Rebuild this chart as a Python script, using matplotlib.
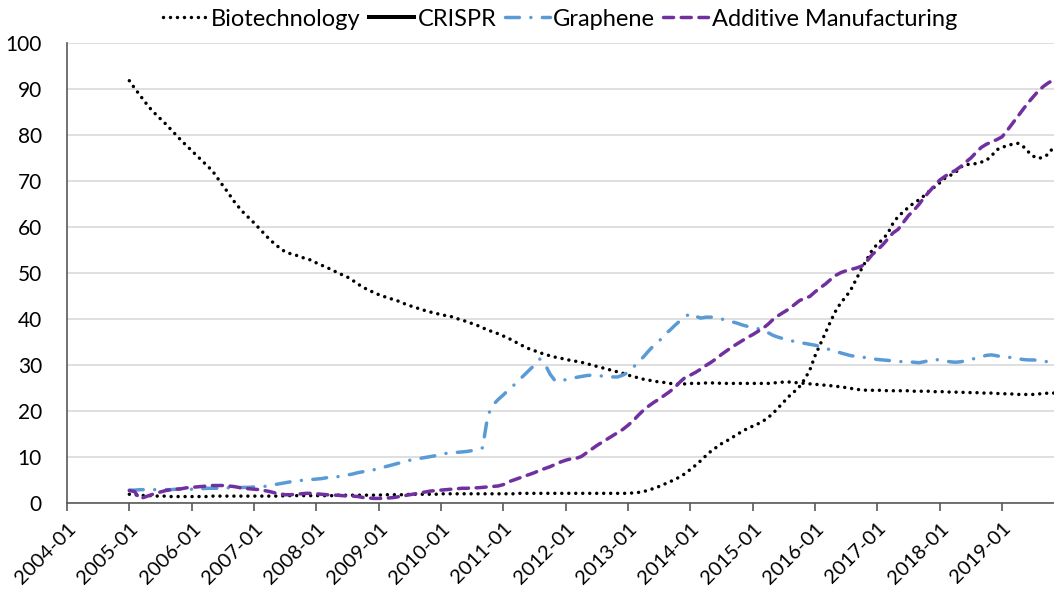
import numpy as np
import matplotlib
matplotlib.use("Agg")
import matplotlib.pyplot as plt
from matplotlib.lines import Line2D

plt.rcParams['font.family'] = ['Lato', 'DejaVu Sans']

# Monthly search-interest index, 2005-01 .. 2019-11 (no data for 2004)
first_month = "2005-01"
axis_start = "2004-01"
tick_labels = ["2004-01", "2005-01", "2006-01", "2007-01", "2008-01", "2009-01",
               "2010-01", "2011-01", "2012-01", "2013-01", "2014-01", "2015-01",
               "2016-01", "2017-01", "2018-01", "2019-01"]

biotechnology = [
    91.8, 90.2, 88.7, 87.2, 85.8, 84.6, 83.5, 82.4, 81.2, 80.0, 78.8, 77.7,   # 2005
    76.6, 75.5, 74.4, 73.3, 72.2, 70.6, 69.0, 67.5, 65.8, 64.4, 63.1, 62.0,   # 2006
    60.9, 59.7, 58.5, 57.3, 56.3, 55.4, 54.6, 54.2, 53.9, 53.5, 53.1, 52.8,   # 2007
    52.2, 51.7, 51.2, 50.7, 50.1, 49.6, 49.1, 48.4, 47.6, 46.9, 46.3, 45.8,   # 2008
    45.3, 44.9, 44.5, 44.2, 43.8, 43.3, 42.9, 42.5, 42.2, 41.8, 41.5, 41.2,   # 2009
    41.0, 40.7, 40.5, 40.1, 39.8, 39.4, 39.0, 38.6, 38.1, 37.6, 37.2, 36.8,   # 2010
    36.3, 35.8, 35.2, 34.6, 34.0, 33.5, 33.1, 32.7, 32.3, 32.0, 31.7, 31.5,   # 2011
    31.2, 31.0, 30.8, 30.6, 30.3, 30.0, 29.7, 29.4, 29.1, 28.8, 28.5, 28.2,   # 2012
    27.8, 27.5, 27.2, 26.9, 26.7, 26.5, 26.3, 26.2, 26.0, 25.9, 25.8, 25.9,   # 2013
    26.0, 26.0, 26.0, 26.1, 26.1, 26.1, 26.0, 26.0, 26.0, 26.0, 26.0, 26.0,   # 2014
    26.0, 26.0, 26.0, 26.0, 26.1, 26.2, 26.3, 26.3, 26.2, 26.1, 26.0, 25.9,   # 2015
    25.8, 25.7, 25.6, 25.5, 25.4, 25.2, 25.1, 24.9, 24.7, 24.6, 24.5, 24.5,   # 2016
    24.5, 24.5, 24.4, 24.4, 24.4, 24.4, 24.4, 24.3, 24.3, 24.3, 24.3, 24.2,   # 2017
    24.2, 24.2, 24.1, 24.1, 24.1, 24.0, 24.0, 24.0, 23.9, 23.9, 23.9, 23.8,   # 2018
    23.8, 23.7, 23.7, 23.6, 23.6, 23.6, 23.6, 23.7, 23.8, 23.9, 23.9,         # 2019
]

crispr = [
    1.9, 1.8, 1.7, 1.6, 1.6, 1.5, 1.5, 1.5, 1.4, 1.4, 1.4, 1.4,               # 2005
    1.4, 1.4, 1.4, 1.4, 1.5, 1.5, 1.5, 1.5, 1.5, 1.5, 1.5, 1.5,               # 2006
    1.5, 1.5, 1.5, 1.5, 1.5, 1.5, 1.6, 1.6, 1.6, 1.6, 1.6, 1.6,               # 2007
    1.6, 1.6, 1.6, 1.6, 1.7, 1.7, 1.7, 1.7, 1.7, 1.7, 1.7, 1.7,               # 2008
    1.7, 1.8, 1.8, 1.8, 1.8, 1.8, 1.9, 1.9, 1.9, 1.9, 1.9, 1.9,               # 2009
    2.0, 2.0, 2.0, 2.0, 2.0, 2.0, 2.0, 2.0, 2.0, 2.0, 2.0, 2.0,               # 2010
    2.0, 2.0, 2.0, 2.1, 2.1, 2.1, 2.1, 2.1, 2.1, 2.1, 2.1, 2.1,               # 2011
    2.1, 2.1, 2.1, 2.1, 2.1, 2.1, 2.1, 2.1, 2.1, 2.1, 2.1, 2.1,               # 2012
    2.1, 2.2, 2.3, 2.5, 2.8, 3.2, 3.6, 4.1, 4.6, 5.1, 5.7, 6.4,               # 2013
    7.3, 8.2, 9.2, 10.3, 11.3, 12.1, 12.9, 13.5, 14.2, 14.9, 15.6, 16.2,      # 2014
    16.7, 17.2, 17.8, 18.6, 19.6, 20.8, 22.0, 23.2, 24.2, 25.3, 26.9, 28.9,   # 2015
    32.0, 34.5, 37.0, 39.5, 41.8, 43.6, 44.9, 46.6, 48.8, 51.0, 53.0, 55.0,   # 2016
    56.3, 57.3, 58.6, 60.8, 62.3, 63.3, 64.3, 65.2, 65.9, 66.8, 67.8, 68.7,   # 2017
    69.6, 70.6, 71.2, 71.8, 73.0, 73.6, 73.6, 73.8, 74.1, 74.5, 75.5, 76.8,   # 2018
    77.3, 77.7, 78.0, 78.2, 77.6, 76.4, 75.4, 74.9, 75.2, 75.9, 77.6,         # 2019
]

graphene = [
    2.8, 2.8, 2.9, 2.9, 2.9, 2.9, 2.9, 2.9, 2.9, 3.0, 3.0, 3.0,               # 2005
    3.0, 3.1, 3.1, 3.2, 3.2, 3.2, 3.3, 3.3, 3.3, 3.3, 3.4, 3.4,               # 2006
    3.5, 3.5, 3.6, 3.8, 4.0, 4.2, 4.4, 4.6, 4.8, 4.9, 5.0, 5.1,               # 2007
    5.2, 5.3, 5.5, 5.6, 5.7, 5.9, 6.1, 6.3, 6.6, 6.8, 7.0, 7.2,               # 2008
    7.5, 7.8, 8.1, 8.4, 8.7, 9.0, 9.3, 9.5, 9.7, 9.9, 10.1, 10.3,             # 2009
    10.5, 10.8, 10.9, 11.0, 11.1, 11.2, 11.4, 11.6, 12.0, 19.0, 21.3, 22.5,   # 2010
    23.5, 24.6, 25.6, 26.7, 27.8, 28.9, 30.0, 31.3, 30.2, 28.0, 26.5, 26.6,   # 2011
    26.8, 27.1, 27.3, 27.5, 27.7, 27.8, 27.7, 27.6, 27.5, 27.4, 27.4, 27.8,   # 2012
    28.4, 29.5, 30.6, 31.8, 33.1, 34.3, 35.2, 36.6, 37.5, 38.6, 39.6, 40.5,   # 2013
    41.2, 40.6, 40.2, 40.4, 40.4, 40.2, 40.0, 39.7, 39.4, 39.1, 38.7, 38.4,   # 2014
    38.1, 37.9, 37.6, 37.0, 36.4, 36.0, 35.7, 35.4, 35.1, 34.9, 34.7, 34.5,   # 2015
    34.3, 34.0, 33.6, 33.3, 33.0, 32.6, 32.3, 32.0, 31.9, 31.7, 31.6, 31.4,   # 2016
    31.2, 31.1, 31.0, 30.9, 30.8, 30.7, 30.7, 30.6, 30.5, 30.7, 31.0, 31.2,   # 2017
    31.1, 30.9, 30.7, 30.6, 30.7, 30.9, 31.2, 31.5, 31.8, 32.1, 32.2, 32.0,   # 2018
    31.8, 31.7, 31.6, 31.4, 31.2, 31.1, 31.1, 31.0, 30.9, 30.6, 30.2,         # 2019
]

additive_manufacturing = [
    2.7, 2.5, 0.9, 1.3, 1.7, 2.1, 2.4, 2.7, 2.9, 3.0, 3.1, 3.3,               # 2005
    3.4, 3.5, 3.6, 3.7, 3.8, 3.8, 3.8, 3.7, 3.6, 3.4, 3.2, 3.1,               # 2006
    3.0, 2.9, 2.7, 2.5, 2.2, 2.0, 1.8, 1.8, 1.9, 2.0, 2.1, 2.1,               # 2007
    2.0, 1.9, 1.8, 1.7, 1.7, 1.6, 1.5, 1.5, 1.4, 1.2, 1.1, 1.0,               # 2008
    1.0, 1.0, 1.1, 1.2, 1.4, 1.6, 1.8, 2.0, 2.2, 2.4, 2.6, 2.7,               # 2009
    2.8, 2.9, 3.0, 3.1, 3.2, 3.2, 3.3, 3.3, 3.4, 3.5, 3.6, 3.7,               # 2010
    4.0, 4.6, 5.0, 5.4, 5.8, 6.2, 6.6, 7.1, 7.5, 7.9, 8.4, 8.9,               # 2011
    9.3, 9.6, 9.7, 10.1, 10.9, 11.7, 12.5, 13.2, 13.9, 14.6, 15.3, 16.0,      # 2012
    16.9, 17.9, 19.1, 20.2, 21.1, 21.9, 22.6, 23.4, 24.2, 25.1, 26.3, 27.3,   # 2013
    27.8, 28.4, 29.1, 29.9, 30.6, 31.4, 32.3, 33.1, 33.9, 34.6, 35.3, 36.0,   # 2014
    36.6, 37.3, 38.0, 38.9, 40.0, 40.8, 41.5, 42.2, 43.1, 44.0, 44.5, 44.9,   # 2015
    45.9, 46.8, 47.6, 48.6, 49.5, 50.1, 50.5, 50.8, 51.1, 51.5, 52.6, 54.0,   # 2016
    55.0, 56.1, 57.4, 58.7, 59.5, 61.0, 62.5, 63.6, 64.9, 66.4, 67.7, 69.0,   # 2017
    70.2, 71.0, 71.7, 72.3, 73.1, 74.1, 75.0, 76.2, 77.3, 78.0, 78.5, 79.0,   # 2018
    79.6, 81.0, 82.5, 84.0, 85.5, 87.0, 88.3, 89.6, 90.6, 91.4, 92.0,         # 2019
]

series_names = ["Biotechnology", "CRISPR", "Graphene", "Additive Manufacturing"]


def month_index(label):
    y, m = label.split("-")
    y0, m0 = axis_start.split("-")
    return (int(y) - int(y0)) * 12 + (int(m) - int(m0))


start = month_index(first_month)
x = start + np.arange(len(biotechnology))
last = x[-1]

fig = plt.figure(figsize=(10.54, 5.90), dpi=100)
ax = fig.add_axes([67 / 1054, 1 - 503 / 590, 1 - 67 / 1054, (503 - 43) / 590])

lw = 2.5
styles = [
    dict(color="black", linestyle=(0, (0.01, 2.0)), dash_capstyle="round"),
    dict(color="black", linestyle=(0, (0.01, 2.0)), dash_capstyle="round"),
    dict(color="#5B9BD5", linestyle=(0, (4.0, 3.3, 0.01, 3.3)), dash_capstyle="round"),
    dict(color="#7030A0", linestyle=(0, (2.9, 2.2)), dash_capstyle="round"),
]
for vals, st in zip([biotechnology, crispr, graphene, additive_manufacturing], styles):
    ax.plot(x, vals, lw=lw, solid_joinstyle="round", **st)

ax.set_xlim(0, last)
ax.set_ylim(0, 100)
ax.set_yticks(np.arange(0, 101, 10))
ax.set_xticks([month_index(t) for t in tick_labels])
ax.set_xticklabels(tick_labels, rotation=45, ha="right", va="top",
                   rotation_mode="anchor", fontsize=14.5)

ax.yaxis.grid(True, color="#d9d9d9", linewidth=1.2)
ax.set_axisbelow(True)
for side in ("top", "right"):
    ax.spines[side].set_visible(False)
for side in ("left", "bottom"):
    ax.spines[side].set_color("#595959")
    ax.spines[side].set_linewidth(1.2)
ax.tick_params(axis="y", length=0, pad=18, labelsize=15)
ax.tick_params(axis="x", length=6, width=1.2, color="#595959", direction="out", pad=6)

handles = [
    Line2D([], [], lw=lw, **styles[0]),
    Line2D([], [], lw=lw + 0.4, color="black"),
    Line2D([], [], lw=lw, **styles[2]),
    Line2D([], [], lw=lw, **styles[3]),
]
fig.legend(handles, series_names, loc="center", bbox_to_anchor=(560 / 1054, 1 - 19 / 590),
           ncol=4, frameon=False, fontsize=17, handlelength=1.9, handletextpad=0.15,
           columnspacing=0.35, borderaxespad=0)

fig.savefig("out.png", dpi=100)
